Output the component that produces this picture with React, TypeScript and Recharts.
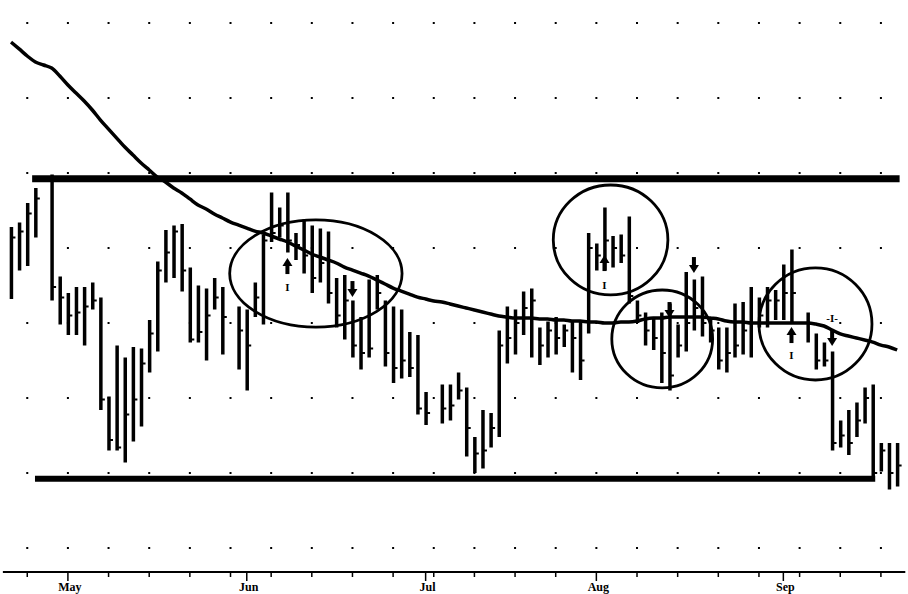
import { ComposedChart, Bar, Line, Scatter, XAxis, YAxis, ReferenceLine, ReferenceArea } from "recharts";

// one slot per weekday, holidays left empty (null)
const highs = [
  46.4, 46.7, 48.0, 49.0, null, 49.9, 43.1, 42.0, 42.4, 42.4,
  42.7, 41.7, 35.1, 38.5, 37.7, 38.4, 38.3, 40.2, 44.1, 46.2,
  46.5, 46.6, 43.7, 42.5, 42.3, 43.0, 42.4, null, 41.1, 40.9,
  42.7, 45.9, 48.7, 47.7, 48.7, 46.0, 46.9, 46.5, 46.3, 46.1,
  43.0, 43.2, 41.5, 40.4, 42.9, 43.2, 41.5, 41.1, 40.9, 39.4,
  39.2, 35.4, null, 35.9, 35.9, 36.7, 35.7, 32.4, 34.2, 34.0,
  39.5, 41.1, 40.9, 42.1, 42.3, 39.7, 40.1, 40.4, 39.9, 40.1,
  40.2, 46.0, 45.3, 47.7, 45.8, 45.9, 47.1, 41.5, 40.7, 40.4,
  40.7, 41.3, 39.9, 43.4, 42.9, 43.1, 40.4, 39.7, 39.7, 41.3,
  41.4, 42.4, 41.7, 42.4, 42.2, 43.9, 44.9, null, 40.7, 39.3,
  38.7, 38.1, 33.5, 34.2, 34.7, 35.7, 35.9, 32.0, 32.0, 32.0,
];
const lows = [
  41.6, 43.5, 43.8, 45.7, null, 41.5, 39.9, 39.2, 39.2, 38.5,
  40.9, 34.2, 31.5, 31.5, 30.7, 32.1, 33.1, 36.7, 38.1, 42.7,
  43.0, 42.1, 38.7, 38.7, 37.5, 40.9, 37.9, null, 36.9, 35.5,
  40.4, 39.9, 45.4, 45.7, 44.7, 44.2, 43.3, 42.0, 42.7, 41.3,
  39.7, 38.9, 37.7, 36.9, 37.7, 40.9, 37.1, 36.0, 36.3, 36.4,
  33.9, 33.2, null, 33.3, 33.5, 34.9, 31.1, 30.0, 30.3, 31.7,
  32.4, 37.3, 37.9, 39.2, 37.7, 37.2, 37.7, 37.9, 38.4, 36.7,
  36.2, 39.3, 43.5, 43.5, 43.7, 44.0, 41.3, 40.0, 38.5, 38.2,
  36.0, 35.5, 37.7, 38.1, 39.5, 39.1, 38.7, 36.9, 36.7, 37.7,
  37.9, 37.7, 39.7, 39.7, 40.2, 40.2, 40.0, null, 38.7, 36.9,
  37.1, 31.5, 31.7, 31.2, 32.4, 33.3, 29.5, 30.1, 28.9, 29.1,
];
const closes = [
  45.7, 46.1, 47.3, 48.3, null, 42.4, 41.7, 40.5, 40.7, 41.1,
  41.5, 34.9, 32.2, 31.7, 33.9, 34.9, 37.3, 39.3, 43.5, 44.7,
  46.1, 43.5, 38.9, 39.4, 40.5, 41.7, 40.4, null, 39.5, 38.5,
  41.7, 45.5, 46.0, 46.5, 45.5, 45.2, 44.5, 43.0, 44.0, 42.0,
  40.5, 41.5, 38.5, 38.0, 38.3, 42.0, 38.0, 37.0, 37.5, 37.0,
  34.3, 34.0, null, 34.3, 34.5, 35.5, 33.0, 31.3, 31.5, 33.0,
  38.5, 39.0, 40.0, 41.0, 41.5, 38.5, 39.5, 39.0, 39.5, 39.0,
  37.5, 45.0, 44.5, 45.5, 45.0, 44.5, 41.8, 40.5, 39.5, 39.0,
  38.0, 36.5, 38.5, 40.0, 41.0, 40.0, 39.5, 37.5, 38.0, 38.5,
  39.5, 40.0, 40.5, 41.5, 41.5, 42.0, 42.0, null, 40.0, 37.5,
  37.5, 32.0, 32.5, 32.0, 33.5, 35.0, 30.0, 31.5, 30.0, 30.5,
];
const movingAvg = [
  58.73, 58.27, 57.8, 57.4, 57.2, 57.0, 56.47, 55.87, 55.33, 54.8,
  54.2, 53.53, 52.93, 52.33, 51.73, 51.2, 50.67, 50.2, 49.73, 49.4,
  49.0, 48.67, 48.27, 47.87, 47.6, 47.27, 47.0, 46.73, 46.53, 46.33,
  46.13, 46.0, 45.8, 45.6, 45.4, 45.13, 44.87, 44.6, 44.4, 44.2,
  44.0, 43.73, 43.53, 43.33, 43.13, 42.87, 42.6, 42.33, 42.13, 41.93,
  41.73, 41.6, 41.47, 41.4, 41.27, 41.13, 41.0, 40.87, 40.73, 40.6,
  40.47, 40.4, 40.33, 40.33, 40.33, 40.27, 40.27, 40.2, 40.2, 40.13,
  40.13, 40.07, 40.07, 40.0, 40.0, 40.07, 40.07, 40.13, 40.27, 40.33,
  40.33, 40.4, 40.4, 40.4, 40.4, 40.4, 40.33, 40.27, 40.13, 40.07,
  40.07, 40.0, 40.0, 40.0, 40.0, 40.0, 40.0, 40.0, 40.0, 39.93,
  39.8, 39.53, 39.27, 39.13, 39.0, 38.87, 38.73, 38.53, 38.4, 38.2,
];

const weekSlots = Array.from({ length: 22 }, (_, i) => 2 + i * 5);
const monthSlots = [7, 29, 51, 72, 95];
const monthLabels = ["May", "Jun", "Jul", "Aug", "Sep"];
const gridPrices = [25, 30, 35, 40, 45, 50, 55, 60];

const channel = [
  { price: 49.625, from: 2.6, to: 109.3 },
  { price: 29.625, from: 2.95, to: 106.3 },
];
const rings = [
  { x1: 26.9, x2: 48.1, y1: 39.73, y2: 46.87 },
  { x1: 66.7, x2: 80.8, y1: 41.87, y2: 49.2 },
  { x1: 73.9, x2: 86.3, y1: 35.67, y2: 42.2 },
  { x1: 92.0, x2: 105.9, y1: 36.2, y2: 43.67 },
];
const signalSlots = [34, 42, 73, 81, 84, 96, 101];
const signalPrices = [44.33, 41.73, 44.53, 40.33, 43.33, 39.73, 38.47];
const signalDirs = ["up", "down", "up", "down", "down", "up", "down"];
const markSlots = [34, 73, 96, 101];
const markPrices = [42.4, 42.53, 37.87, 40.33];
const markTexts = ["I", "I", "I", "-I-"];

const rows = movingAvg.map((ma, i) => ({
  slot: i,
  ma,
  high: highs[i],
  low: lows[i],
  close: closes[i],
  range: highs[i] == null ? undefined : [lows[i], highs[i]],
}));
const gridDots = gridPrices.flatMap((price) => weekSlots.map((slot) => ({ slot, price })));
const signals = signalSlots.map((slot, i) => ({ slot, price: signalPrices[i], dir: signalDirs[i] }));
const marks = markSlots.map((slot, i) => ({ slot, price: markPrices[i], text: markTexts[i] }));
const tickSlots = Array.from(new Set([...weekSlots, ...monthSlots])).sort((a, b) => a - b);

function PriceBar(props: any) {
  const { x, y, width, height, payload } = props;
  if (payload.high == null || !Number.isFinite(y)) return null;
  const cx = x + width / 2;
  const top = Math.min(y, y + height);
  const h = Math.abs(height);
  const cy = top + ((payload.high - payload.close) / (payload.high - payload.low)) * h;
  return (
    <g>
      <line x1={cx} x2={cx} y1={top} y2={top + h} stroke="#000" strokeWidth={3.5} />
      <line x1={cx} x2={cx + 4} y1={cy} y2={cy} stroke="#000" strokeWidth={2} />
    </g>
  );
}

function GridDot(props: any) {
  return <rect x={props.cx - 1} y={props.cy - 1} width={2} height={2} fill="#000" />;
}

function Arrow(props: any) {
  const { cx, cy, payload } = props;
  const s = payload.dir === "up" ? 1 : -1;
  return (
    <g fill="#000">
      <polygon points={`${cx},${cy} ${cx - 5},${cy + s * 8} ${cx + 5},${cy + s * 8}`} />
      <rect x={cx - 2} y={s > 0 ? cy + 7 : cy - 16} width={4} height={9} />
    </g>
  );
}

function Mark(props: any) {
  return (
    <text x={props.cx} y={props.cy + 4} textAnchor="middle" fontFamily="Liberation Serif" fontWeight="bold" fontSize={11} fill="#000">
      {props.payload.text}
    </text>
  );
}

function AxisTick(props: any) {
  const { x, y, payload } = props;
  const m = monthSlots.indexOf(payload.value);
  return (
    <g>
      <line x1={x} x2={x} y1={y} y2={y + (m >= 0 ? 9 : 5)} stroke="#000" strokeWidth={1.5} />
      {m >= 0 && (
        <text x={x + 2} y={y + 19} textAnchor="middle" fontFamily="Liberation Serif" fontWeight="bold" fontSize={12} fill="#000">
          {monthLabels[m]}
        </text>
      )}
    </g>
  );
}

export default function App() {
  return (
    <div style={{ position: "absolute", left: 0, top: 0, width: 908, height: 594, background: "#fff" }}>
      <ComposedChart width={908} height={594} data={rows} margin={{ top: 8, right: 2.7, left: 2.87, bottom: 0 }}>
        <XAxis
          dataKey="slot"
          type="number"
          domain={[-1, 110]}
          allowDataOverflow
          ticks={tickSlots}
          interval={0}
          tick={<AxisTick />}
          tickLine={false}
          tickSize={0}
          tickMargin={0}
          height={22}
          axisLine={{ stroke: "#000", strokeWidth: 2 }}
        />
        <YAxis hide type="number" domain={[23.4, 61]} allowDataOverflow />
        <Scatter data={gridDots} dataKey="price" shape={<GridDot />} isAnimationActive={false} />
        {rings.map((r, i) => (
          <ReferenceArea
            key={i}
            x1={r.x1}
            x2={r.x2}
            y1={r.y1}
            y2={r.y2}
            ifOverflow="visible"
            shape={(p: any) => (
              <ellipse cx={p.x + p.width / 2} cy={p.y + p.height / 2} rx={Math.abs(p.width) / 2} ry={Math.abs(p.height) / 2} fill="none" stroke="#000" strokeWidth={2.8} />
            )}
          />
        ))}
        {channel.map((c, i) => (
          <ReferenceLine
            key={i}
            segment={[{ x: c.from, y: c.price }, { x: c.to, y: c.price }]}
            stroke="#000"
            strokeWidth={i === 0 ? 7 : 6}
            ifOverflow="visible"
          />
        ))}
        <Bar dataKey="range" barSize={3} shape={<PriceBar />} isAnimationActive={false} />
        <Line type="monotone" dataKey="ma" stroke="#000" strokeWidth={3.5} dot={false} isAnimationActive={false} />
        <Scatter data={signals} dataKey="price" shape={<Arrow />} isAnimationActive={false} />
        <Scatter data={marks} dataKey="price" shape={<Mark />} isAnimationActive={false} />
      </ComposedChart>
    </div>
  );
}
